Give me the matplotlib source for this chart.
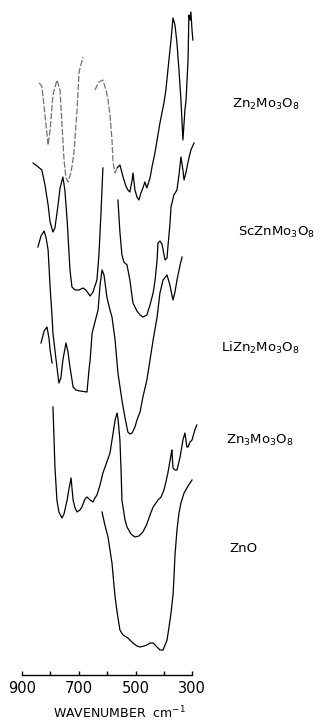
import numpy as np
import matplotlib
matplotlib.use("Agg")
import matplotlib.pyplot as plt

# wavenumber (cm-1) and transmittance (arbitrary offset units)
nan = np.nan

wn_zn2 = np.array([840, 830, 819, 808, 801, 791, 777, 766, 759, 752, 745, 738, 727, 717, 706, 699, 685, nan,
                   643, 629, 615, 604, 597, 590, 583, 579, 572, 565, 555, 544, 534, 527, 520, 512, 509, 502,
                   495, 488, 481, 474, 467, 460, 449, 442, 431, 424, 414, 400, 393, 386, 375, 368, 361, 354,
                   347, 340, 333, 326, 322, 315, 312, 308, 305, 301, 298])
t_zn2 = np.array([639, 636, 607, 577, 592, 627, 642, 632, 597, 562, 544, 540, 550, 569, 612, 650, 665, nan,
                  632, 640, 642, 632, 622, 607, 582, 559, 549, 554, 557, 545, 536, 532, 530, 542, 549, 532,
                  525, 522, 529, 534, 540, 534, 544, 555, 570, 582, 599, 619, 632, 652, 682, 704, 697, 679,
                  652, 622, 582, 612, 622, 662, 707, 702, 710, 692, 682])

wn_sc = np.array([861, 847, 830, 819, 808, 801, 791, 784, 773, 766, 756, 749, 741, 738, 731, 724, 713, 699,
                  685, 675, 660, 650, 636, 629, 622, 615, nan,
                  562, 555, 548, 541, 530, 520, 509, 495, 484, 474, 460, 449, 438, 431, 424, 421, 414, 407,
                  396, 389, 386, 379, 375, 365, 354, 347, 340, 333, 329, 322, 315, 305, 294])
t_sc = np.array([559, 556, 552, 537, 517, 500, 490, 494, 517, 534, 545, 532, 502, 487, 452, 435, 432, 432,
                 434, 432, 426, 430, 442, 467, 507, 554, nan,
                 522, 490, 467, 460, 457, 442, 419, 411, 407, 405, 407, 417, 429, 442, 462, 479, 481, 478,
                 462, 464, 475, 497, 515, 527, 532, 547, 565, 552, 542, 550, 560, 572, 579])

wn_li = np.array([844, 833, 822, 815, 808, 801, 794, 791, 784, 777, 770, 763, 756, 745, 738, 731, 720, 710,
                  696, 671, 664, 660, 653, 643, 632, 625, 618, 611, 601, 590, 583, 572, 562, 548, 537, 527,
                  520, 512, 502, 495, 484, 474, 460, 449, 438, 424, 414, 403, 389, 379, 368, 361, 354, 343, 336])
t_li = np.array([475, 486, 491, 484, 472, 435, 405, 389, 372, 355, 339, 344, 362, 379, 370, 355, 335, 332,
                 331, 330, 352, 362, 389, 400, 412, 437, 452, 447, 425, 412, 405, 382, 349, 322, 304, 290,
                 288, 289, 295, 302, 310, 325, 342, 362, 382, 405, 429, 442, 447, 437, 422, 430, 442, 457, 465])

wn_zn3 = np.array([833, 822, 812, 805, 801, 794, nan,
                   791, 787, 784, 777, 770, 759, 752, 741, 734, 727, 724, 720, 713, 706, 696, 689, 678, 671,
                   660, 650, 643, 636, 625, 615, 601, 590, 579, 572, 565, 562, 555, 551, 548, 537, 530, 516,
                   502, 488, 474, 460, 449, 438, 428, 421, 410, 400, 393, 386, 375, 372, 368, 361, 354, 343,
                   333, 326, 319, 315, 308, 301, 291, 284])
t_zn3 = np.array([379, 391, 395, 384, 372, 359, nan,
                  315, 282, 255, 222, 210, 204, 208, 222, 234, 244, 234, 222, 214, 210, 212, 215, 223, 225,
                  222, 220, 224, 227, 237, 249, 260, 269, 289, 302, 309, 304, 282, 252, 222, 202, 195, 188,
                  185, 186, 190, 198, 207, 215, 219, 222, 225, 232, 240, 249, 267, 272, 254, 252, 252, 265,
                  282, 289, 275, 275, 280, 282, 292, 297])

wn_zno = np.array([618, 608, 597, 590, 583, 576, 572, 565, 555, 544, 527, 509, 495, 484, 470, 460, 449, 438,
                   431, 421, 414, 403, 396, 389, 382, 375, 368, 365, 361, 354, 347, 340, 329, 315, 301])
t_zno = np.array([210, 197, 185, 172, 159, 137, 125, 110, 92, 87, 84, 79, 76, 75, 76, 77, 79, 79,
                  77, 74, 72, 72, 77, 82, 95, 109, 127, 142, 167, 192, 209, 219, 229, 236, 242])

names = ["Zn$_2$Mo$_3$O$_8$", "ScZnMo$_3$O$_8$", "LiZn$_2$Mo$_3$O$_8$", "Zn$_3$Mo$_3$O$_8$", "ZnO"]
ticks = [900, 800, 700, 600, 500, 400, 300]
ticklabels = ["900", "", "700", "", "500", "", "300"]

W, H = 328, 722
fig = plt.figure(figsize=(W / 100, H / 100), dpi=100)
ax = fig.add_axes([22 / W, 47 / H, 170.3 / W, 675 / H])
ax.set_xlim(900, 300)
ax.set_ylim(47, 722)

lw = 0.9
# top trace is faint and broken on the left in the scan
faint = wn_zn2 >= 560
ax.plot(np.where(faint, wn_zn2, nan), t_zn2, color="0.45", lw=lw, ls=(0, (5, 1.5)), clip_on=False)
ax.plot(np.where(wn_zn2 <= 566, wn_zn2, nan), t_zn2, color="k", lw=lw, clip_on=False)
ax.plot(wn_sc, t_sc, color="k", lw=lw, clip_on=False)
ax.plot(wn_li, t_li, color="k", lw=lw, clip_on=False)
ax.plot(wn_zn3, t_zn3, color="k", lw=lw, clip_on=False)
ax.plot(wn_zno, t_zno, color="k", lw=lw, clip_on=False)

for s in ["top", "left", "right"]:
    ax.spines[s].set_visible(False)
ax.spines["bottom"].set_linewidth(1.0)
ax.set_yticks([])
ax.set_xticks(ticks)
ax.set_xticklabels(ticklabels)
ax.tick_params(axis="x", direction="in", length=3, width=1.0, pad=4, labelsize=10.5)
ax.set_xticks([900, 300], minor=True)
ax.tick_params(axis="x", which="minor", direction="in", length=6, width=1.0)

fig.text(119 / W, 1 - 713 / H, "WAVENUMBER  cm$^{-1}$", ha="center", va="center", fontsize=9)

label_pos = [(232, 104), (238, 232), (221, 348), (226, 440), (229, 548)]
for name, (px, py) in zip(names, label_pos):
    fig.text(px / W, 1 - py / H, name, ha="left", va="center", fontsize=9.5)

fig.savefig("out.png", dpi=100)
